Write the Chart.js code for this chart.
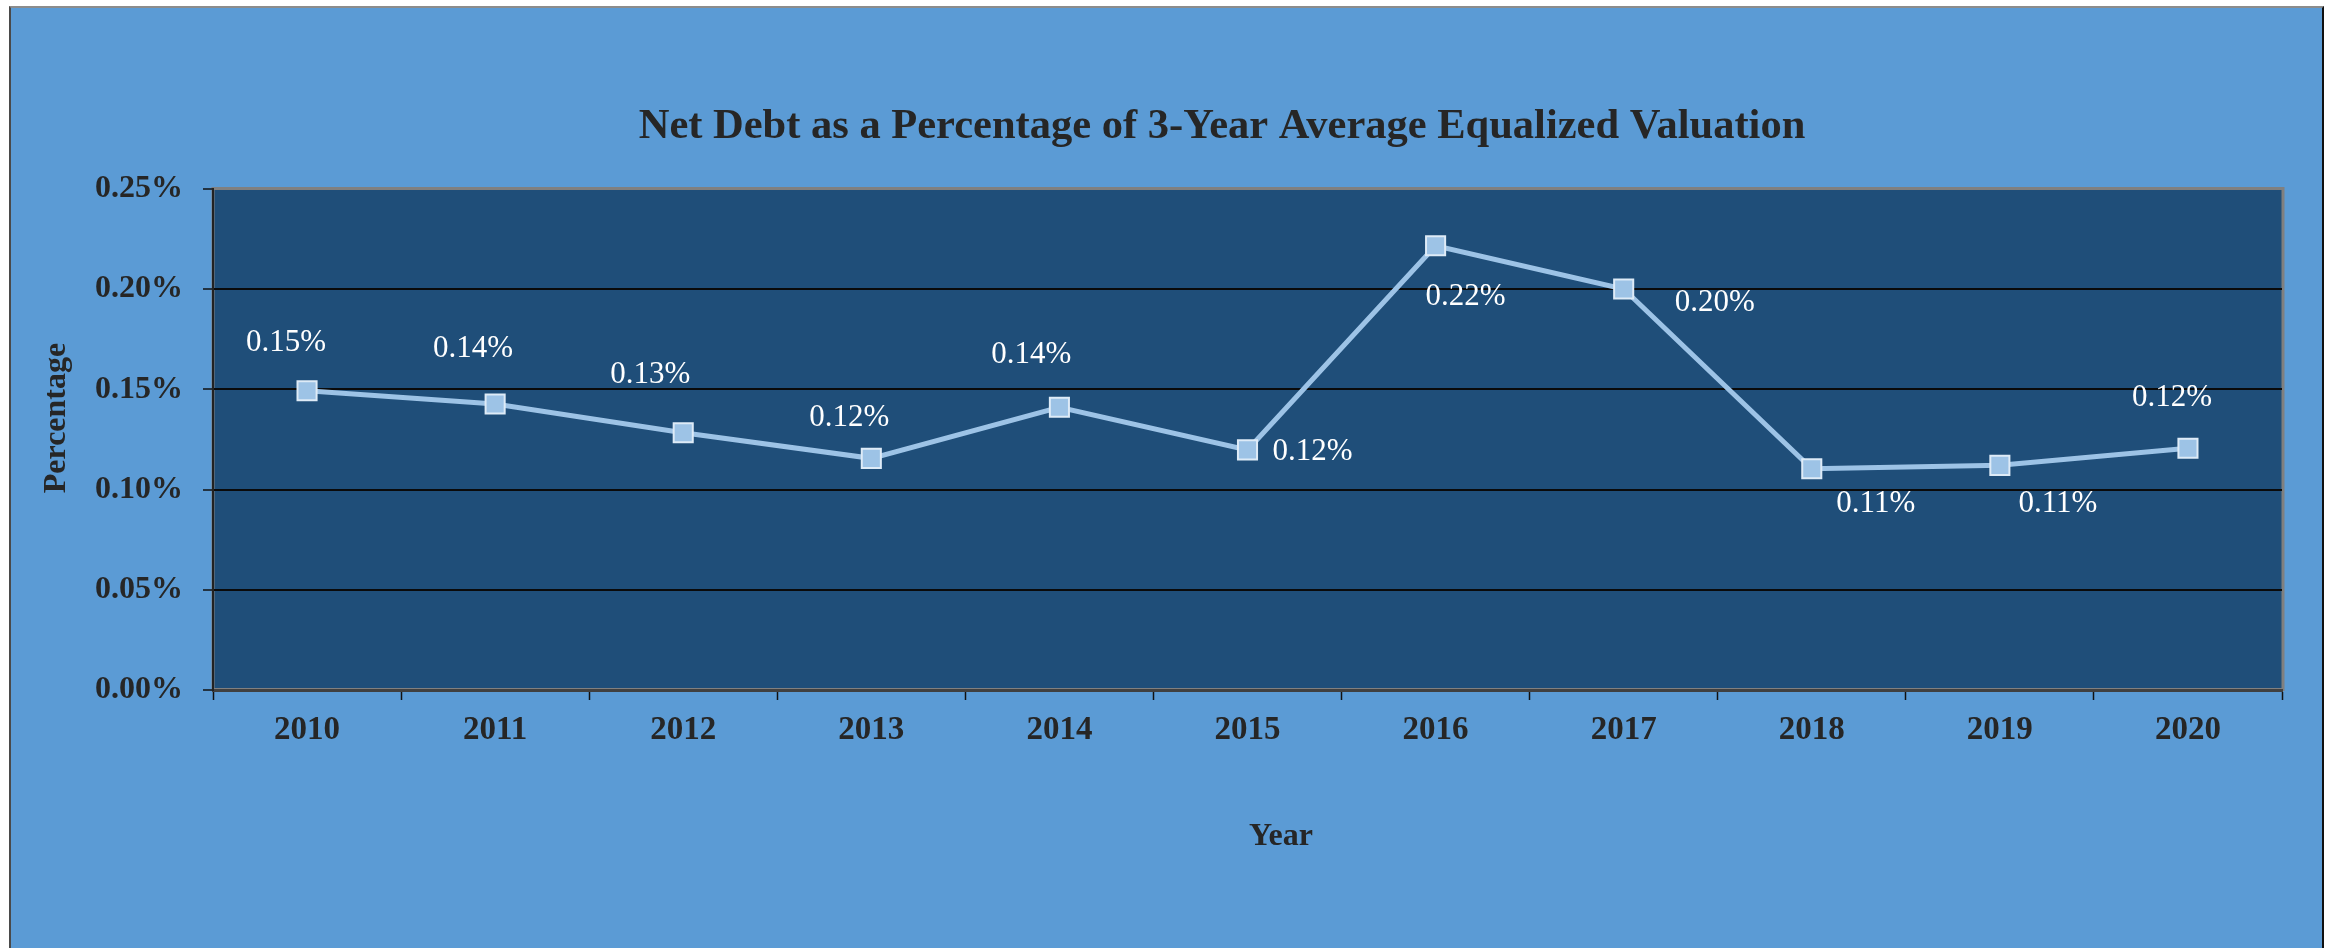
<!DOCTYPE html>
<html>
<head>
<meta charset="utf-8">
<script src="https://cdn.jsdelivr.net/npm/chart.js@4.4.1/dist/chart.umd.min.js"></script>
<style>
  html, body { margin: 0; padding: 0; background: #fff; }
  #frame {
    position: absolute; left: 9px; top: 6px; width: 2315px; height: 960px;
    background: #5b9bd5; box-sizing: border-box;
    border-left: 2px solid #4a4a4a; border-top: 2px solid #8c8c8c; border-right: 2px solid #111;
  }
  #chart { position: absolute; left: 0; top: 0; }
</style>
</head>
<body>
<div id="frame"></div>
<canvas id="chart" width="2336" height="948"></canvas>
<script>
const years = ['2010', '2011', '2012', '2013', '2014', '2015', '2016', '2017', '2018', '2019', '2020']
const netDebtPct = [0.1493, 0.1427, 0.1284, 0.1156, 0.1411, 0.1198, 0.2217, 0.2001, 0.1104, 0.1121, 0.1206]
const yTicks = [0, 0.05, 0.10, 0.15, 0.20, 0.25]

// where each value label sits relative to its marker
const labelOffsets = [[-21, -48], [-22, -55], [-33, -58], [-22, -40], [-28, -52], [65, 2], [30, 51], [91, 14], [64, 35], [58, 39], [-16, -50]]

const titleText = 'Net Debt as a Percentage of 3-Year Average Equalized Valuation'
const serif = '"Liberation Serif", "Times New Roman", serif'
const ink = '#262626'

Chart.defaults.font.family = serif
Chart.defaults.color = ink

// dark plot background with grey frame
const plotBg = {
  id: 'plotBg',
  beforeDraw(chart) {
    const a = chart.chartArea, c = chart.ctx
    c.save()
    c.fillStyle = '#1f4e79'
    c.fillRect(a.left, a.top, a.right - a.left, a.bottom - a.top)
    c.strokeStyle = '#808080'
    c.lineWidth = 3
    c.strokeRect(a.left, a.top - 0.5, a.right - a.left + 1, a.bottom - a.top)
    c.restore()
  }
}

// chart title, axis titles and value labels
const texts = {
  id: 'texts',
  afterDatasetsDraw(chart) {
    const a = chart.chartArea, c = chart.ctx
    c.save()
    c.fillStyle = ink
    c.textAlign = 'center'
    c.textBaseline = 'middle'
    c.font = 'bold 42.5px ' + serif
    c.fillText(titleText, a.left + 1009, 127)
    c.font = 'bold 32px ' + serif
    c.fillText('Year', a.left + 1068, 837)
    c.translate(57, 418)
    c.rotate(-Math.PI / 2)
    c.fillText('Percentage', 0, 0)
    c.restore()

    c.save()
    c.fillStyle = '#ffffff'
    c.textAlign = 'center'
    c.textBaseline = 'middle'
    c.font = '31px ' + serif
    chart.getDatasetMeta(0).data.forEach((pt, i) => {
      const v = netDebtPct[i]
      c.fillText(v.toFixed(2) + '%', pt.x + labelOffsets[i][0], pt.y + labelOffsets[i][1])
    })
    c.restore()
  }
}

new Chart(document.getElementById('chart'), {
  type: 'line',
  data: {
    labels: years,
    datasets: [{
      data: netDebtPct,
      borderColor: '#9dc3e6',
      borderWidth: 5,
      tension: 0,
      pointStyle: 'rect',
      pointRadius: 13.5,
      pointBackgroundColor: '#9dc3e6',
      pointBorderColor: '#deebf7',
      pointBorderWidth: 2
    }]
  },
  options: {
    responsive: false,
    animation: false,
    devicePixelRatio: 1,
    layout: { padding: { left: 0, top: 189, right: 54, bottom: 0 } },
    plugins: { legend: { display: false }, tooltip: { enabled: false } },
    scales: {
      x: {
        offset: true,
        grid: { offset: true, drawOnChartArea: false, tickLength: 10, tickColor: '#111', tickWidth: 1.5 },
        border: { color: '#404040', width: 3 },
        ticks: { padding: 11, font: { size: 33, weight: 'bold' }, color: ink },
        afterFit: s => { s.height = 258 }
      },
      y: {
        min: 0,
        max: 0.25,
        afterBuildTicks: s => { s.ticks = yTicks.map(v => ({ value: v })) },
        grid: {
          color: ctx => ctx.tick && ctx.tick.value >= 0.25 ? '#808080' : (ctx.tick && ctx.tick.value === 0 ? 'rgba(0,0,0,0)' : '#0a0a0a'),
          lineWidth: 2,
          tickLength: 10,
          tickColor: '#111',
          tickWidth: 1.5
        },
        border: { color: '#222', width: 2 },
        ticks: {
          padding: 20,
          font: { size: 32, weight: 'bold' },
          color: ink,
          callback: v => Number(v).toFixed(2) + '%'
        },
        afterFit: s => { s.width = 213 }
      }
    }
  },
  plugins: [plotBg, texts]
})
</script>
</body>
</html>
